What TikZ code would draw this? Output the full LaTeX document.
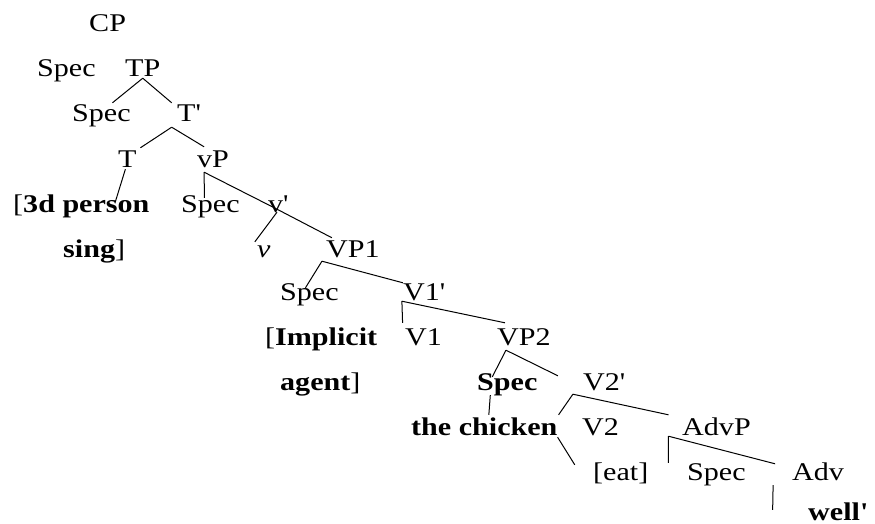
\documentclass[tikz,border=0pt]{standalone}
\usepackage{fontspec}
\setmainfont{Liberation Serif}[FakeStretch=1.18]
\usetikzlibrary{calc}
\newcommand{\apo}{\textquotesingle}
\tikzset{
  lbl/.style={anchor=base west, inner sep=0pt, text height=18pt, text depth=1pt,
    font=\fontsize{25.5}{30}\selectfont},
  br/.style={line width=1pt, black}
}
\begin{document}
\begin{tikzpicture}[x=1pt, y=-1pt]
\useasboundingbox (0,0) rectangle (875,524);
% nodes
\node[lbl] (cp)    at (89,32)   {CP};
\node[lbl] (specA) at (37,77)   {Spec};
\node[lbl] (tp)    at (125,77)  {TP};
\node[lbl] (specB) at (72,122)  {Spec};
\node[lbl] (tbar)  at (177,122) {T\apo};
\node[lbl] (t)     at (118,167) {T};
\node[lbl] (vp)    at (197,167) {vP};
\node[lbl] (person) at (13,212) {[\textbf{3d person}};
\node[lbl] (specC) at (181,212) {Spec};
\node[lbl] (vbar)  at (268,212) {v\apo};
\node[lbl] (sing)  at (63,257)  {\textbf{sing}]};
\node[lbl] (vsmall) at (257,257) {\textit{v}};
\node[lbl] (vpone) at (326,257) {VP1};
\node[lbl] (specD) at (280,300) {Spec};
\node[lbl] (vonebar) at (403,300) {V1\apo};
\node[lbl] (implicit) at (265,345) {[\textbf{Implicit}};
\node[lbl] (vone)  at (405,345) {V1};
\node[lbl] (vptwo) at (497,345) {VP2};
\node[lbl] (agent) at (280,390) {\textbf{agent}]};
\node[lbl] (specE) at (477,390) {\textbf{Spec}};
\node[lbl] (vtwobar) at (583,390) {V2\apo};
\node[lbl] (chicken) at (411,435) {\textbf{the chicken}};
\node[lbl] (vtwo)  at (582,435) {V2};
\node[lbl] (advp)  at (682,435) {AdvP};
\node[lbl] (eat)   at (593,480) {[eat]};
\node[lbl] (specF) at (687,480) {Spec};
\node[lbl] (adv)   at (792,480) {Adv};
\node[lbl, text depth=0pt] (well)  at (808,520) {\textbf{well\apo}};
% connectors
\draw[br] (tp.south) -- ($(specB.north)+(11,-1)$);
\draw[br] (tp.south) -- ($(tbar.north)+(-17,-1)$);
\draw[br] ($(tbar.south)+(-17,4)$) -- ($(t.north)+(13,-1)$);
\draw[br] ($(tbar.south)+(-17,4)$) -- ($(vp.north)+(-9,-2)$);
\draw[br] ($(t.south)+(-2,1)$) -- ($(person.north)+(34,8)$);
\draw[br] ($(vp.south)+(-9,4)$) -- ($(specC.north)+(-6,4)$);
\draw[br] ($(vp.south)+(-9,4)$) -- ($(vbar.south)+(-1,-4)$);
\draw[br] ($(vbar.south)+(-1,-4)$) -- ($(vpone.north)+(-21,-1)$);
\draw[br] ($(vbar.south)+(-1,-1)$) -- ($(vsmall.north)+(-9,3)$);
\draw[br] ($(vpone.south)+(-31,3)$) -- ($(specD.north)+(-4,6)$);
\draw[br] ($(vpone.south)+(-31,3)$) -- ($(vonebar.north)+(-21,1)$);
\draw[br] ($(vonebar.south)+(-22,0)$) -- ($(vone.north)+(-21,-4)$);
\draw[br] ($(vonebar.south)+(-22,0)$) -- ($(vptwo.north)+(-19,-4)$);
\draw[br] ($(vptwo.south)+(-18,4)$) -- ($(specE.north)+(-15,5)$);
\draw[br] ($(vptwo.south)+(-18,4)$) -- ($(vtwobar.north)+(-46,4)$);
\draw[br] ($(specE.south)+(-17,4)$) -- ($(chicken.north)+(4.5,-2)$);
\draw[br] ($(vtwobar.south)+(-31,3)$) -- ($(vtwo.north)+(-42,-2)$);
\draw[br] ($(vtwobar.south)+(-31,3)$) -- ($(advp.north)+(-48,-2)$);
\draw[br] ($(vtwo.south)+(-43,1)$) -- ($(eat.north)+(-46,3)$);
\draw[br] ($(advp.south)+(-48,0)$) -- ($(specF.north)+(-48,1)$);
\draw[br] ($(advp.south)+(-48,0)$) -- ($(adv.north)+(-43,2)$);
\draw[br] ($(adv.south)+(-45,4)$) -- ($(well.north)+(-65,8)$);
\end{tikzpicture}
\end{document}
